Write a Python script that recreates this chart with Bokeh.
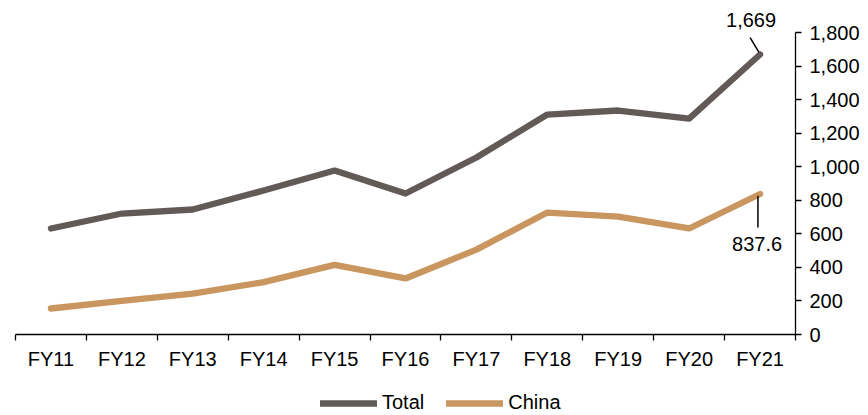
from bokeh.plotting import figure
from bokeh.models import (Range1d, FixedTicker, LinearAxis, NumeralTickFormatter,
                          Legend, LegendItem, Label, ColumnDataSource)
from bokeh.embed import file_html
from bokeh.resources import INLINE

# Fiscal years and series values
categories = ["FY11", "FY12", "FY13", "FY14", "FY15", "FY16",
              "FY17", "FY18", "FY19", "FY20", "FY21"]
total = [632, 721, 745, 858, 977, 840, 1055, 1311, 1335, 1287, 1669]
china = [155, 200, 244, 312, 415, 334, 506, 727, 703, 632, 837.6]
y_ticks = [0, 200, 400, 600, 800, 1000, 1200, 1400, 1600, 1800]

FONT = "Liberation Sans"
FS = "20px"
C_TOTAL = "#625a56"
C_CHINA = "#c99660"

W, H = 868, 415
# pixel box of the axes inside the canvas
AX_LEFT, AX_RIGHT, AX_TOP, AX_BOTTOM = 15, 795, 32, 334
N = len(categories)
Y_MAX = 1800

# the frame fills the whole canvas; axes are pinned with fixed_location
px_x = (AX_RIGHT - AX_LEFT) / N
px_y = (AX_BOTTOM - AX_TOP) / Y_MAX
x_range = Range1d(-AX_LEFT / px_x, N + (W - AX_RIGHT) / px_x)
y_range = Range1d(-(H - AX_BOTTOM) / px_y, AX_BOTTOM / px_y)

# category centres sit at i + 0.5 so boundary ticks fall on integers
xs = [i + 0.5 for i in range(N)]

p = figure(width=W, height=H, output_backend="svg", toolbar_location=None,
           x_range=x_range, y_range=y_range,
           x_axis_type=None, y_axis_type=None,
           min_border=0)
p.outline_line_color = None
p.grid.visible = False
p.background_fill_color = "white"
p.border_fill_color = "white"

src = ColumnDataSource(dict(x=xs, total=total, china=china))
r_total = p.line("x", "total", source=src, line_color=C_TOTAL, line_width=6.3,
                 line_cap="round", line_join="round")
r_china = p.line("x", "china", source=src, line_color=C_CHINA, line_width=6.3,
                 line_cap="round", line_join="round")

# x axis: labels at category centres, tick marks at boundaries
xaxis = LinearAxis(ticker=FixedTicker(ticks=xs, minor_ticks=list(range(N + 1))),
                   fixed_location=0, bounds=(0, N))
xaxis.major_label_overrides = {x: c for x, c in zip(xs, categories)}
xaxis.major_tick_line_color = None
xaxis.major_tick_out = 6
xaxis.minor_tick_in = 0
xaxis.minor_tick_out = 6
xaxis.minor_tick_line_color = "black"
xaxis.axis_line_color = "black"
xaxis.axis_line_width = 1.3
xaxis.minor_tick_line_width = 1.3
xaxis.major_label_standoff = 7
xaxis.major_label_text_font = FONT
xaxis.major_label_text_font_size = FS
xaxis.major_label_text_color = "black"
p.add_layout(xaxis, "below")

# value axis on the right, drawn over 0..1,800
yaxis = LinearAxis(ticker=FixedTicker(ticks=y_ticks, minor_ticks=[]),
                   formatter=NumeralTickFormatter(format="0,0"),
                   fixed_location=N, bounds=(0, Y_MAX))
yaxis.major_tick_in = 0
yaxis.major_tick_out = 6
yaxis.major_tick_line_color = "black"
yaxis.major_tick_line_width = 1.3
yaxis.axis_line_color = "black"
yaxis.axis_line_width = 1.3
yaxis.major_label_standoff = 8
yaxis.major_label_text_font = FONT
yaxis.major_label_text_font_size = FS
yaxis.major_label_text_color = "black"
p.add_layout(yaxis, "right")

# value call-outs for the last year
last_x = xs[-1]
p.segment(x0=[last_x - 0.015], y0=[total[-1] + 12], x1=[last_x - 0.14],
          y1=[total[-1] + 100], line_color="black", line_width=1.5)
p.segment(x0=[last_x - 0.03], y0=[china[-1] - 10], x1=[last_x - 0.03],
          y1=[china[-1] - 200], line_color="black", line_width=1.5)
p.add_layout(Label(x=last_x, y=total[-1], x_offset=-9, y_offset=34,
                   text=f"{total[-1]:,.0f}", text_align="center",
                   text_baseline="middle", text_font=FONT,
                   text_font_size=FS, text_color="black"))
p.add_layout(Label(x=last_x, y=china[-1], x_offset=-3, y_offset=-50,
                   text=f"{china[-1]:.1f}", text_align="center",
                   text_baseline="middle", text_font=FONT,
                   text_font_size=FS, text_color="black"))

# legend sits at the foot of the canvas, clear of the bottom edge
legend = Legend(items=[LegendItem(label="Total", renderers=[r_total]),
                       LegendItem(label="China", renderers=[r_china])],
                orientation="horizontal", location=(320, 1),
                glyph_width=57, glyph_height=20, label_standoff=5, spacing=22,
                padding=0, margin=0, border_line_color=None,
                background_fill_alpha=0, label_text_font=FONT,
                label_text_font_size=FS, label_text_color="black")
p.add_layout(legend, "center")

open("out.html", "w").write(file_html(p, INLINE))
